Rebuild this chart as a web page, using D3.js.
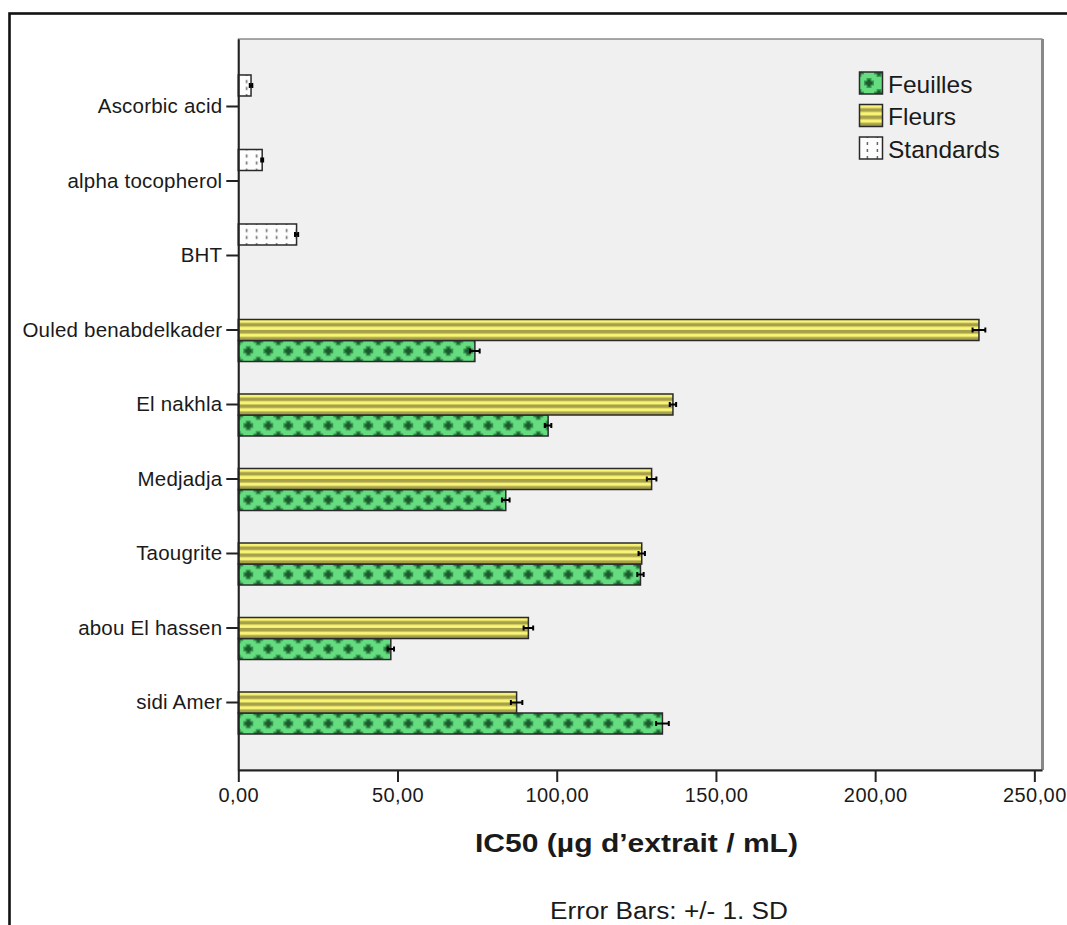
<!DOCTYPE html>
<html><head><meta charset="utf-8">
<script src="https://cdn.jsdelivr.net/npm/d3@7"></script>
<style>
body{margin:0;background:#fff;}
svg{display:block;}
text{font-family:"Liberation Sans",Arial,sans-serif;fill:#1a1a1a;}
</style>
</head><body>
<svg id="c" width="1067" height="925"></svg>
<script>
// ---- data ----
const categories = ["Ascorbic acid","alpha tocopherol","BHT","Ouled benabdelkader","El nakhla","Medjadja","Taougrite","abou El hassen","sidi Amer"];
const seriesNames = ["Feuilles","Fleurs","Standards"];
const slotOrder = ["Standards","Fleurs","Feuilles"];
const feuilles   = [null,null,null,74.3,97.3,84.0,126.3,47.9,133.2];
const feuillesSD = [null,null,null,1.5,1.0,1.2,1.0,1.0,2.0];
const fleurs     = [null,null,null,232.6,136.5,129.8,126.7,91.1,87.4];
const fleursSD   = [null,null,null,2.0,1.0,1.5,1.0,1.5,1.8];
const standards   = [4.0,7.5,18.3,null,null,null,null,null,null];
const standardsSD = [0.4,0.3,0.5,null,null,null,null,null,null];
const xTicks = [0,50,100,150,200,250];
const xTitle = "IC50 (µg d’extrait / mL)";
const footnote = "Error Bars: +/- 1. SD";

const seriesData = {
  Feuilles: categories.map((c,i)=>({cat:c,value:feuilles[i],sd:feuillesSD[i]})),
  Fleurs: categories.map((c,i)=>({cat:c,value:fleurs[i],sd:fleursSD[i]})),
  Standards: categories.map((c,i)=>({cat:c,value:standards[i],sd:standardsSD[i]}))
};

// ---- layout ----
const svg = d3.select("#c");
const x = d3.scaleLinear().domain([0,252.4]).range([238.3,1042]);
const y = d3.scaleBand().domain(categories).range([39,770]).paddingInner(0.154).paddingOuter(0.483);
const slot = d3.scaleBand().domain(slotOrder).range([0,y.bandwidth()]);
const bh = slot.bandwidth();
const fmt = v => d3.format(".2f")(v).replace(".", ",");

// outer frame
svg.append("rect").attr("x",9.5).attr("y",13.5).attr("width",1100).attr("height",1000)
  .attr("fill","none").attr("stroke","#111").attr("stroke-width",2.6);

// plot area
const [px0,px1] = x.range(), [py0,py1] = y.range();
svg.append("rect").attr("x",px0).attr("y",py0).attr("width",px1-px0).attr("height",py1-py0)
  .attr("fill","#f0f0f0").attr("stroke","#555").attr("stroke-width",1);
svg.append("line").attr("x1",px1+0.5).attr("x2",px1+0.5).attr("y1",py0).attr("y2",py1)
  .attr("stroke","#888").attr("stroke-width",3);

const defs = svg.append("defs");
function makePattern(id, series, ox, oy, h){
  if(series==="Feuilles"){
    const p = defs.append("pattern").attr("id",id).attr("patternUnits","userSpaceOnUse")
      .attr("x",ox).attr("y",oy).attr("width",20).attr("height",h);
    p.append("rect").attr("width",20).attr("height",h).attr("fill","#66dc80");
    const dark="#1a5a2c", mid="#379a50";
    const plus=(cx,cy)=>{
      p.append("rect").attr("x",cx-5).attr("y",cy-2.5).attr("width",10).attr("height",5).attr("fill",mid);
      p.append("rect").attr("x",cx-2.5).attr("y",cy-5).attr("width",5).attr("height",10).attr("fill",mid);
      p.append("rect").attr("x",cx-3.5).attr("y",cy-1.5).attr("width",7).attr("height",3).attr("fill",dark);
      p.append("rect").attr("x",cx-1.5).attr("y",cy-3.5).attr("width",3).attr("height",7).attr("fill",dark);
    };
    plus(10,h/2); plus(0,0); plus(20,0); plus(0,h); plus(20,h);
  } else if(series==="Fleurs"){
    const p = defs.append("pattern").attr("id",id).attr("patternUnits","userSpaceOnUse")
      .attr("x",ox).attr("y",oy).attr("width",20).attr("height",h);
    p.append("rect").attr("width",20).attr("height",h).attr("fill","#f4ef6e");
    const s = h/6;
    [1,3,5].forEach(k=>p.append("rect").attr("x",0).attr("y",k*s).attr("width",20).attr("height",s).attr("fill","#a6a04a"));
    [0,2,4].forEach(k=>p.append("rect").attr("x",0).attr("y",k*s+s*0.35).attr("width",20).attr("height",s*0.35).attr("fill","#fbf77f"));
  } else {
    const p = defs.append("pattern").attr("id",id).attr("patternUnits","userSpaceOnUse")
      .attr("x",ox).attr("y",oy).attr("width",10).attr("height",h);
    p.append("rect").attr("width",10).attr("height",h).attr("fill","#fdfdfd");
    p.append("line").attr("x1",8.4).attr("x2",8.4).attr("y1",-2).attr("y2",h+2)
      .attr("stroke","#666").attr("stroke-width",1.5).attr("stroke-dasharray","3,4");
  }
}

// bars
const gBars = svg.append("g");
seriesNames.forEach(s=>{
  seriesData[s].forEach((d,i)=>{
    if(d.value==null) return;
    const by = y(d.cat)+slot(s);
    const id = `p-${s}-${i}`;
    makePattern(id, s, x(0), by, bh);
    gBars.append("rect").attr("x",x(0)).attr("y",by).attr("width",x(d.value)-x(0)).attr("height",bh)
      .attr("fill",`url(#${id})`).attr("stroke","#2a2a2a").attr("stroke-width",1.5);
  });
});
// error bars
const gErr = svg.append("g").attr("stroke","#000").attr("stroke-width",2);
seriesNames.forEach(s=>{
  seriesData[s].forEach(d=>{
    if(d.value==null) return;
    const cy = y(d.cat)+slot(s)+bh/2;
    const a = x(d.value-d.sd), b = x(d.value+d.sd);
    gErr.append("line").attr("x1",a).attr("x2",b).attr("y1",cy).attr("y2",cy);
    gErr.append("line").attr("x1",a).attr("x2",a).attr("y1",cy-2.5).attr("y2",cy+2.5);
    gErr.append("line").attr("x1",b).attr("x2",b).attr("y1",cy-2.5).attr("y2",cy+2.5);
  });
});

// axes
const gx = svg.append("g").attr("transform",`translate(0,${py1})`)
  .call(d3.axisBottom(x).tickValues(xTicks).tickSize(12).tickSizeOuter(0).tickPadding(6).tickFormat(fmt));
gx.select(".domain").attr("stroke","#222").attr("stroke-width",2);
gx.selectAll(".tick line").attr("stroke","#222").attr("stroke-width",2);
gx.selectAll(".tick text").attr("font-size",20).attr("letter-spacing",0.4)
  .attr("font-family","'Liberation Sans',Arial,sans-serif").attr("fill","#1a1a1a");

const gy = svg.append("g").attr("transform",`translate(${px0},0)`)
  .call(d3.axisLeft(y).tickSize(12).tickSizeOuter(0).tickPadding(4));
gy.select(".domain").attr("stroke","#222").attr("stroke-width",2);
gy.selectAll(".tick line").attr("stroke","#222").attr("stroke-width",2);
gy.selectAll(".tick text").attr("font-size",20.5).attr("letter-spacing",0.2)
  .attr("font-family","'Liberation Sans',Arial,sans-serif").attr("fill","#1a1a1a");

// axis title
svg.append("text").attr("x",636.5).attr("y",852).attr("text-anchor","middle")
  .attr("font-size",25).attr("font-weight","bold")
  .attr("textLength",323).attr("lengthAdjust","spacingAndGlyphs").text(xTitle);
// footnote
svg.append("text").attr("x",669).attr("y",919).attr("text-anchor","middle")
  .attr("font-size",23).attr("textLength",238).attr("lengthAdjust","spacingAndGlyphs").text(footnote);

// legend
const lg = svg.append("g");
seriesNames.forEach((s,i)=>{
  const ty = 72 + i*32.5;
  const id = `leg-${s}`;
  makePattern(id, s, 859, ty, 22);
  lg.append("rect").attr("x",859.5).attr("y",ty).attr("width",23).attr("height",22)
    .attr("fill",`url(#${id})`).attr("stroke","#2a2a2a").attr("stroke-width",1.5);
  lg.append("text").attr("x",888).attr("y",ty+12).attr("dy","0.36em")
    .attr("font-size",24.5).text(s);
});
</script>
</body></html>
